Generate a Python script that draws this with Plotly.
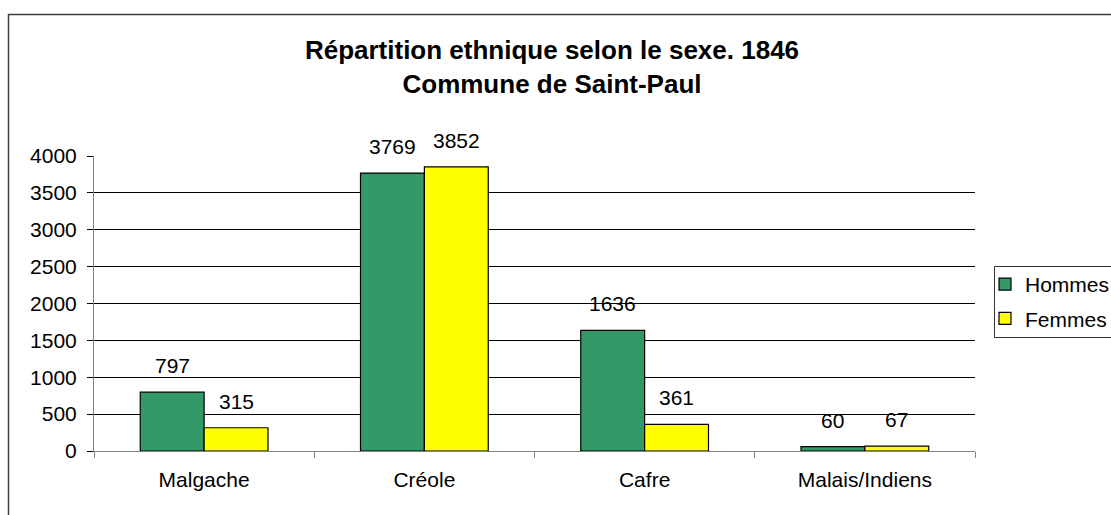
import plotly.graph_objects as go

categories = ["Malgache", "Créole", "Cafre", "Malais/Indiens"]
hommes = [797, 3769, 1636, 60]
femmes = [315, 3852, 361, 67]
y_ticks = [0, 500, 1000, 1500, 2000, 2500, 3000, 3500, 4000]

W, H = 1111, 515
ML, MR, MT, MB = 94, 136, 156, 64
PW, PH = W - ML - MR, H - MT - MB
FONT = "Liberation Sans, Arial, sans-serif"


def px_x(px):
    return (px - ML) / PW


def px_y(py):
    return (H - MB - py) / PH


fig = go.Figure()
fig.add_trace(go.Bar(name="Hommes", x=categories, y=hommes, legendgroup="h",
                     marker=dict(color="#339966", line=dict(color="black", width=1.2))))
fig.add_trace(go.Bar(name="Femmes", x=categories, y=femmes, legendgroup="f",
                     marker=dict(color="#FFFF00", line=dict(color="black", width=1.2))))

# value labels above each bar
for i, (h, f) in enumerate(zip(hommes, femmes)):
    for val, xs in ((h, -0.145), (f, 0.145)):
        fig.add_annotation(x=i + xs, y=val, text=str(val), showarrow=False,
                           xref="x", yref="y", yanchor="bottom", yshift=13,
                           font=dict(size=21, color="black", family=FONT))

# outer chart frame
fig.add_shape(type="rect", xref="paper", yref="paper",
              x0=px_x(8.5), x1=px_x(W + 20), y0=px_y(H + 20), y1=px_y(14.5),
              line=dict(color="#404040", width=1.5), layer="below")

# legend frame
fig.add_shape(type="rect", xref="paper", yref="paper",
              x0=px_x(994.5), x1=px_x(W + 20), y0=px_y(337.5), y1=px_y(266.5),
              line=dict(color="#333333", width=1), layer="below")

fig.update_layout(
    width=W, height=H,
    margin=dict(l=ML, r=MR, t=MT, b=MB, autoexpand=False),
    paper_bgcolor="white", plot_bgcolor="white",
    font=dict(family=FONT, size=21, color="black"),
    barmode="group", bargap=0.42, bargroupgap=0,
    title=dict(text="<b>Répartition ethnique selon le sexe. 1846<br>Commune de Saint-Paul</b>",
               xref="container", yref="container",
               x=552 / W, xanchor="center", y=1 - 59 / H, yanchor="top",
               font=dict(size=26, family=FONT, color="black")),
    legend=dict(x=px_x(985), y=px_y(264), xanchor="left", yanchor="top",
                borderwidth=0, bgcolor="rgba(0,0,0,0)",
                font=dict(size=21, family=FONT), tracegroupgap=4,
                traceorder="grouped", itemwidth=30),
    showlegend=True,
)
fig.update_xaxes(type="category", showline=True, linecolor="#808080", linewidth=1,
                 ticks="outside", tickson="boundaries", ticklen=6, tickcolor="#808080",
                 showgrid=False, tickfont=dict(size=21), ticklabelstandoff=10)
fig.update_yaxes(range=[0, 4000], tickvals=y_ticks, showline=True, linecolor="#808080",
                 linewidth=1, ticks="outside", ticklen=6, tickcolor="black",
                 showgrid=True, gridcolor="black", gridwidth=1, zeroline=False,
                 tickfont=dict(size=21), ticklabelstandoff=6)

fig.write_html("out.html")
